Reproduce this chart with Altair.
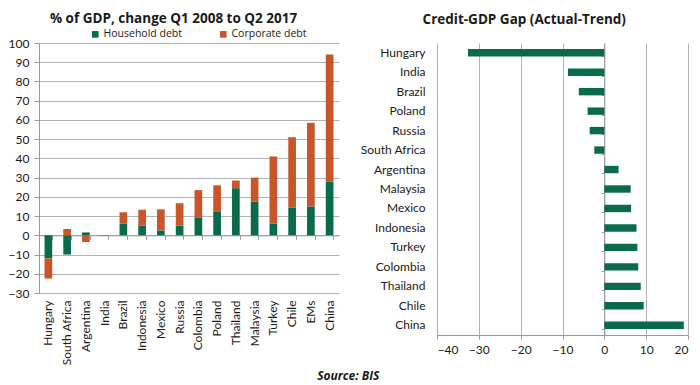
import altair as alt
import pandas as pd

# ---- data: left chart ----
left_countries = ["Hungary", "South Africa", "Argentina", "India", "Brazil", "Indonesia",
                  "Mexico", "Russia", "Colombia", "Poland", "Thailand", "Malaysia",
                  "Turkey", "Chile", "EMs", "China"]
household = [-12, -10, 1.5, 0, 6, 5, 2.5, 5, 9, 12.5, 24.5, 17.5, 6, 14.5, 15, 28]
corporate = [-10.5, 3.3, -3.5, -0.3, 6, 8.3, 11, 11.7, 14.5, 13.5, 4, 12.5, 35, 36.5, 43.5, 66]
series_names = ["Household debt", "Corporate debt"]
y_ticks = [-30, -20, -10, 0, 10, 20, 30, 40, 50, 60, 70, 80, 90, 100]

# ---- data: right chart ----
gap_countries = ["Hungary", "India", "Brazil", "Poland", "Russia", "South Africa",
                 "Argentina", "Malaysia", "Mexico", "Indonesia", "Turkey", "Colombia",
                 "Thailand", "Chile", "China"]
gap_values = [-32.6, -8.7, -6.1, -4.0, -3.5, -2.4, 3.4, 6.3, 6.4, 7.7, 7.9, 8.1, 8.7, 9.4, 19.0]
x_ticks = [-40, -30, -20, -10, 0, 10, 20]

GREEN = "#096b4b"
ORANGE = "#c8562a"
GRID = "#b3b3b3"
AXIS = "#9a9a9a"
TEXT = "#1a1a1a"
FONT = "Lato"
TFONT = "Open Sans"

rows = []
for c, h, k in zip(left_countries, household, corporate):
    rows.append({"country": c, "series": series_names[0], "value": h, "ord": 0})
    rows.append({"country": c, "series": series_names[1], "value": k, "ord": 1})
df_left = pd.DataFrame(rows)
df_gap = pd.DataFrame({"country": gap_countries, "gap": gap_values})

LW, LH = 300, 250
RW, RH = 251, 292

x_scale_left = alt.Scale(domain=left_countries, paddingInner=0.59, paddingOuter=0.295)

bars_left = alt.Chart(df_left).mark_bar().encode(
    x=alt.X("country:N", sort=left_countries, scale=x_scale_left,
            axis=alt.Axis(orient="bottom", title=None, labelAngle=-90, domain=False,
                          ticks=False, grid=False, labelPadding=7, labelFontSize=12,
                          labelColor=TEXT, labelFont=FONT)),
    y=alt.Y("value:Q", stack="zero", scale=alt.Scale(domain=[-30, 100], nice=False, zero=False),
            axis=alt.Axis(values=y_ticks, title=None, grid=True, gridColor=GRID,
                          domainColor=AXIS, tickColor=AXIS, tickSize=5, labelPadding=5,
                          labelFontSize=12, labelColor=TEXT, labelFont=FONT)),
    color=alt.Color("series:N", sort=series_names,
                    scale=alt.Scale(domain=series_names, range=[GREEN, ORANGE]),
                    legend=alt.Legend(orient="none", legendX=51, legendY=-14,
                                      direction="horizontal", title=None,
                                      symbolType="square", symbolSize=44,
                                      symbolStrokeWidth=0, columnPadding=36,
                                      labelOffset=3, labelFontSize=10.5,
                                      labelFont=TFONT, labelColor=TEXT)),
    order=alt.Order("ord:Q"),
)

zero_left = alt.Chart(df_left).mark_point(opacity=0).encode(
    x=alt.X("country:N", sort=left_countries, scale=x_scale_left,
            axis=alt.Axis(orient="bottom", offset=-LH * 30 / 130, labels=False, title=None,
                          domain=True, domainColor=AXIS, ticks=True, tickColor=AXIS,
                          tickSize=4, tickBand="extent", grid=False)),
)

left = alt.layer(bars_left, zero_left).resolve_axis(x="independent").properties(
    width=LW, height=LH,
    title=alt.TitleParams("% of GDP, change Q1 2008 to Q2 2017", fontSize=13.5,
                          fontWeight="bold", font=TFONT, color=TEXT, offset=12,
                          frame="bounds", anchor="middle"),
)

y_scale_right = alt.Scale(domain=gap_countries, paddingInner=0.62, paddingOuter=0.31)

bars_right = alt.Chart(df_gap).mark_bar(color=GREEN).encode(
    y=alt.Y("country:N", sort=gap_countries, scale=y_scale_right,
            axis=alt.Axis(orient="left", title=None, domain=False, ticks=False, grid=False,
                          labelPadding=12, labelFontSize=12, labelColor=TEXT, labelFont=FONT)),
    x=alt.X("gap:Q", scale=alt.Scale(domain=[-40, 20], nice=False),
            axis=alt.Axis(values=x_ticks, title=None, grid=True, gridColor=GRID,
                          domainColor=AXIS, tickColor=AXIS, tickSize=4, labelPadding=5,
                          labelFontSize=12, labelColor=TEXT, labelFont=FONT)),
)

zero_right = alt.Chart(df_gap).mark_point(opacity=0).encode(
    y=alt.Y("country:N", sort=gap_countries, scale=y_scale_right,
            axis=alt.Axis(orient="left", offset=-RW * 40 / 60, labels=False, title=None,
                          domain=True, domainColor=AXIS, ticks=True, tickColor=AXIS,
                          tickSize=3, tickBand="extent", grid=False)),
)

right = alt.layer(bars_right, zero_right).resolve_axis(y="independent").properties(
    width=RW, height=RH,
    title=alt.TitleParams("Credit-GDP Gap (Actual-Trend)", fontSize=13.5,
                          fontWeight="bold", font=TFONT, color=TEXT, offset=17,
                          frame="bounds", anchor="middle"),
)

chart = alt.hconcat(left, right, spacing=20).properties(
    padding={"left": 0, "top": 3, "right": 0, "bottom": 0},
    title=alt.TitleParams("Source: BIS", orient="bottom", anchor="middle", fontSize=12,
                          fontWeight="bold", fontStyle="italic", font=TFONT, color=TEXT,
                          offset=6),
).configure_view(stroke=None)

chart.save("out.html", embed_options={"renderer": "svg", "actions": False})
